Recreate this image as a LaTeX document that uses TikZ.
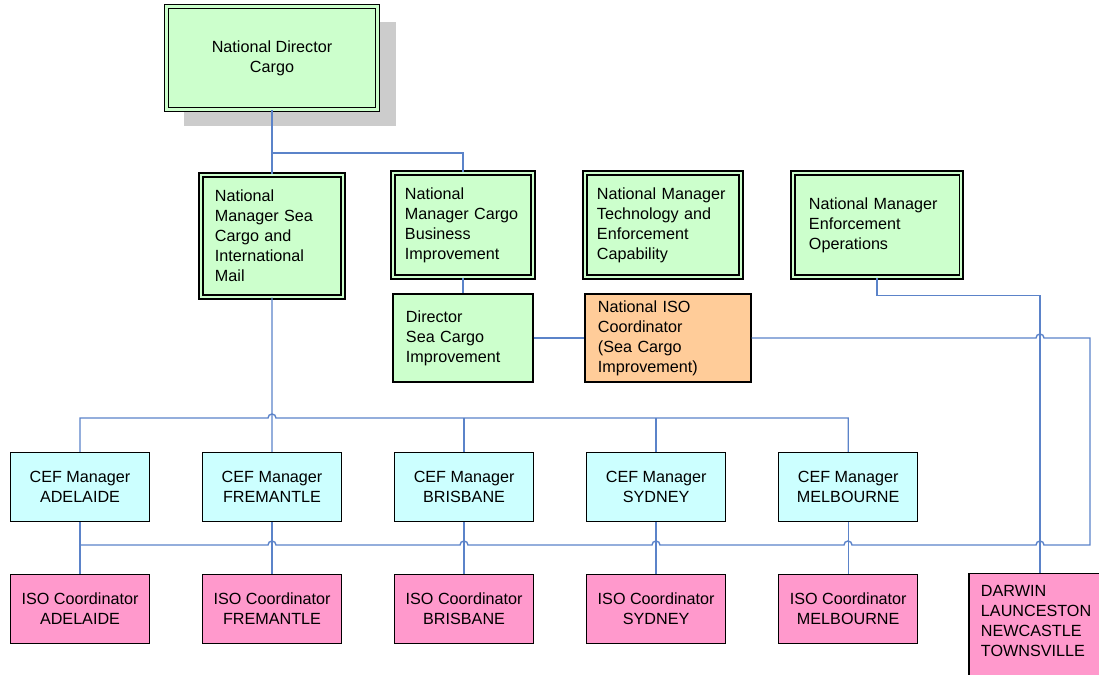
\documentclass[tikz,border=0pt]{standalone}
\usepackage{fontspec}
\setmainfont{Liberation Sans}
\usepackage{xcolor}
\usetikzlibrary{calc,positioning,shadows}
\definecolor{mgrgreen}{HTML}{CCFFCC}
\definecolor{cefcyan}{HTML}{CCFFFF}
\definecolor{isopink}{HTML}{FF99CC}
\definecolor{nisoorange}{HTML}{FFCC99}
\definecolor{linkblue}{HTML}{5B83C9}
\definecolor{shadowgrey}{HTML}{CCCCCC}
\tikzset{%
	mgrbox/.style  = {draw, double=mgrgreen, double distance=2pt, line width=.8pt, fill=mgrgreen, align=left, inner xsep=.3cm, minimum height=2.6cm}, % national managers
	dirbox/.style  = {mgrbox, align=center, minimum width=5.275cm, minimum height=2.575cm,
	                  general shadow={fill=shadowgrey, shadow xshift=.45cm, shadow yshift=-.4cm}},
	subbox/.style  = {draw, line width=1pt, align=left, inner xsep=.325cm, minimum height=2.2cm},
	cefbox/.style  = {draw, line width=1pt, fill=cefcyan, align=center, minimum width=3.475cm, minimum height=1.725cm}, % CEF managers
	isobox/.style  = {draw, line width=1pt, fill=isopink, align=center, minimum width=3.475cm, minimum height=1.725cm}, % ISO coordinators
	link/.style    = {draw=linkblue, line width=1pt},
}

\begin{document}
\begin{tikzpicture}[x=0.025cm, y=-0.025cm, node distance=4.8cm, font=\fontsize{11.5}{14.2}\selectfont]
	\useasboundingbox (0,0) rectangle (1099,675);

	\node [dirbox] (dir) at (272,58) {National Director\\Cargo};
	\node [mgrbox, text width=2.85cm, inner xsep=.35cm, minimum height=3.05cm] (scm) at (272,236) {National\\Manager Sea\\Cargo and\\International\\Mail};
	\node [mgrbox, text width=2.9cm] (cbi) at (463,225) {National\\Manager Cargo\\Business\\Improvement};
	\node [mgrbox, text width=3.3cm] (tec) at (663,225) {National Manager\\Technology and\\Enforcement\\Capability};
	\node [mgrbox, text width=3.4cm, inner xsep=.4cm] (enf) at (877,225) {National Manager\\Enforcement\\Operations};
	\node [subbox, fill=mgrgreen, text width=2.85cm] (dsci) at (463,338) {Director\\Sea Cargo\\Improvement};
	\node [subbox, fill=nisoorange, text width=3.5cm] (niso) at (668,338) {National ISO\\Coordinator\\(Sea Cargo\\Improvement)};

	\node [cefbox] (cefa) at (80,487) {CEF Manager\\ADELAIDE};
	\node [cefbox] (ceff) [right of=cefa] {CEF Manager\\FREMANTLE};
	\node [cefbox] (cefb) [right of=ceff] {CEF Manager\\BRISBANE};
	\node [cefbox] (cefs) [right of=cefb] {CEF Manager\\SYDNEY};
	\node [cefbox] (cefm) [right of=cefs] {CEF Manager\\MELBOURNE};

	\node [isobox] (isoa) [below of=cefa, node distance=3.05cm] {ISO Coordinator\\ADELAIDE};
	\node [isobox] (isof) [right of=isoa] {ISO Coordinator\\FREMANTLE};
	\node [isobox] (isob) [right of=isof] {ISO Coordinator\\BRISBANE};
	\node [isobox] (isos) [right of=isob] {ISO Coordinator\\SYDNEY};
	\node [isobox] (isom) [right of=isos] {ISO Coordinator\\MELBOURNE};
	\node [isobox, anchor=north, inner xsep=.3cm, inner ysep=.3cm] (darw) at (1040,573)
		{\parbox[c][2.6cm][t]{2.95cm}{DARWIN\\LAUNCESTON\\NEWCASTLE\\TOWNSVILLE}};

	\coordinate (topbus) at (0,153);
	\coordinate (cefbus) at (0,418);

	% top level
	\draw[link] (dir.south) -- (dir.south |- topbus) -| (cbi.north);
	\draw[link] (dir.south |- topbus) -- (scm.north);
	\draw[link] (cbi) -- (dsci);
	\draw[link] (dsci) -- (niso);
	\draw[link] (enf.south) -- ++(0,18) -| (darw.north);

	% CEF managers
	\draw[link] (scm) -- (ceff);
	\draw[link] (cefa.north) |- (268,418) arc[start angle=180, end angle=360, radius=4] -| (cefm.north);
	\draw[link] (cefb.north) -- (cefb.north |- cefbus);
	\draw[link] (cefs.north) -- (cefs.north |- cefbus);

	% ISO coordinators
	\foreach \c/\i in {cefa/isoa, ceff/isof, cefb/isob, cefs/isos, cefm/isom}
		\draw[link] (\c) -- (\i);
	\draw[link] (niso.east) -- (1036,338) arc[start angle=180, end angle=360, radius=4] -- (1090,338) -- (1090,545)
		-- (1044,545) arc[start angle=0, end angle=-180, radius=4]
		-- (852,545) arc[start angle=0, end angle=-180, radius=4]
		-- (660,545) arc[start angle=0, end angle=-180, radius=4]
		-- (468,545) arc[start angle=0, end angle=-180, radius=4]
		-- (276,545) arc[start angle=0, end angle=-180, radius=4]
		-- (80,545);
\end{tikzpicture}
\end{document}
